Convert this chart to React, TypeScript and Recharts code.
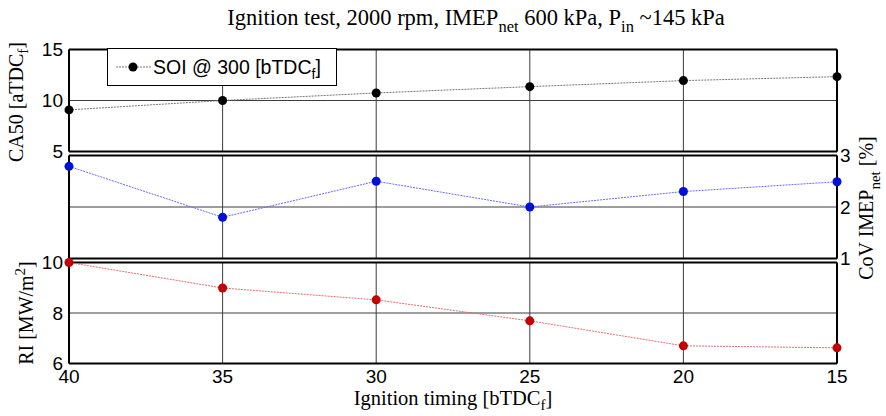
import React from 'react';
import { LineChart, Line, XAxis, YAxis, CartesianGrid, ReferenceLine } from 'recharts';

// ---- data ----
const ignitionTiming = [40, 35, 30, 25, 20, 15];
const ca50Values = [9.08, 10.0, 10.74, 11.36, 11.95, 12.34];
const covImepValues = [2.79, 1.8, 2.5, 2.0, 2.3, 2.49];
const riValues = [10.0, 8.99, 8.52, 7.69, 6.7, 6.62];
const xTicks = [40, 35, 30, 25, 20, 15];
const ca50Ticks = [5, 10, 15];
const covTicks = [1, 2, 3];
const riTicks = [6, 8, 10];
const legendLabel = 'SOI @ 300 [bTDC';

const data = ignitionTiming.map((x, i) => ({
  x,
  ca50: ca50Values[i],
  cov: covImepValues[i],
  ri: riValues[i],
}));

// ---- layout ----
const W = 886;
const H = 416;
const L = 69;
const R = 837;
const Y_W = 40;
const X_H = 30;
const SANS = 'Liberation Sans, Arial, Helvetica, sans-serif';
const SERIF = 'Liberation Serif, Times New Roman, serif';
const tickStyle = { fontSize: 19, fontFamily: SANS, fill: '#000' };
const GRID = '#3c3c3c';

type PanelProps = {
  top: number;
  bottom: number;
  dataKey: string;
  dotColor: string;
  lineColor: string;
  domain: [number, number];
  ticks: number[];
  side: 'left' | 'right';
  showX: boolean;
};

function Panel({ top, bottom, dataKey, dotColor, lineColor, domain, ticks, side, showX }: PanelProps) {
  const xH = showX ? X_H : 0;
  const margin = {
    top,
    bottom: H - bottom - xH,
    left: side === 'left' ? L - Y_W : L,
    right: side === 'right' ? W - R - Y_W : W - R,
  };
  return (
    <div style={{ position: 'absolute', left: 0, top: 0 }}>
      <LineChart width={W} height={H} data={data} margin={margin}>
        <CartesianGrid stroke={GRID} strokeWidth={1} vertical={false} />
        <XAxis
          type="number"
          dataKey="x"
          domain={[15, 40]}
          reversed
          ticks={xTicks}
          interval={0}
          height={xH}
          axisLine={false}
          tickLine={false}
          tickSize={4}
          tickMargin={2}
          tick={showX ? tickStyle : false}
        />
        <YAxis
          type="number"
          domain={domain}
          ticks={ticks}
          interval={0}
          orientation={side}
          width={Y_W}
          axisLine={false}
          tickLine={false}
          tickSize={side === 'left' ? 4 : 1}
          tickMargin={2}
          tick={tickStyle}
        />
        {xTicks.map((t) => (
          <ReferenceLine key={`g${t}`} x={t} stroke={GRID} strokeWidth={1} />
        ))}
        <ReferenceLine x={40} stroke="#000" strokeWidth={2} />
        <ReferenceLine x={15} stroke="#000" strokeWidth={2} />
        <ReferenceLine y={domain[0]} stroke="#000" strokeWidth={2} />
        <ReferenceLine y={domain[1]} stroke="#000" strokeWidth={2} />
        <Line
          type="linear"
          dataKey={dataKey}
          stroke={lineColor}
          strokeWidth={1}
          strokeDasharray="2 1"
          dot={{ r: 4.5, fill: dotColor, stroke: dotColor, strokeWidth: 0 }}
          activeDot={false}
          isAnimationActive={false}
        />
      </LineChart>
    </div>
  );
}

function Labels() {
  return (
    <svg width={W} height={H} style={{ position: 'absolute', left: 0, top: 0, pointerEvents: 'none' }}>
      <text x={476} y={25} textAnchor="middle" fontFamily={SERIF} fontSize={22.5} fill="#000">
        Ignition test, 2000 rpm, IMEP
        <tspan dy={7} fontSize={16.5}>net</tspan>
        <tspan dy={-7}> 600 kPa, P</tspan>
        <tspan dy={7} fontSize={16.5}>in</tspan>
        <tspan dy={-7}> ~145 kPa</tspan>
      </text>
      <text x={453} y={405} textAnchor="middle" fontFamily={SERIF} fontSize={20.5} fill="#000">
        Ignition timing [bTDC
        <tspan dy={5} fontSize={15}>f</tspan>
        <tspan dy={-5}>]</tspan>
      </text>
      <text
        transform="translate(23,102) rotate(-90)"
        textAnchor="middle"
        fontFamily={SERIF}
        fontSize={20}
        fill="#000"
      >
        CA50 [aTDC
        <tspan dy={5} fontSize={15}>f</tspan>
        <tspan dy={-5}>]</tspan>
      </text>
      <text
        transform="translate(33,313) rotate(-90)"
        textAnchor="middle"
        fontFamily={SERIF}
        fontSize={20}
        fill="#000"
      >
        RI [MW/m
        <tspan dy={-8} fontSize={15}>2</tspan>
        <tspan dy={8}>]</tspan>
      </text>
      <text
        transform="translate(873,208) rotate(-90)"
        textAnchor="middle"
        fontFamily={SERIF}
        fontSize={20}
        fill="#000"
      >
        CoV IMEP
        <tspan dy={7} fontSize={15}>net</tspan>
        <tspan dy={-7}> [%]</tspan>
      </text>
    </svg>
  );
}

function LegendBox() {
  return (
    <div
      style={{
        position: 'absolute',
        left: 107,
        top: 48,
        width: 230,
        height: 38,
        boxSizing: 'border-box',
        border: '1px solid #000',
        background: '#fff',
      }}
    >
      <svg width={228} height={36} style={{ position: 'absolute', left: 0, top: 0 }}>
        <line x1={8} y1={18} x2={43} y2={18} stroke="#777" strokeWidth={1} strokeDasharray="2 1" />
        <circle cx={25} cy={18} r={4.5} fill="#000" />
        <text x={45} y={25} fontFamily={SANS} fontSize={19.5} fill="#000">
          {legendLabel}
          <tspan dy={5} fontSize={14}>f</tspan>
          <tspan dy={-5}>]</tspan>
        </text>
      </svg>
    </div>
  );
}

export default function App() {
  return (
    <div style={{ position: 'absolute', left: 0, top: 0, width: W, height: H, background: '#fff' }}>
      <Panel
        top={49.5}
        bottom={151.5}
        dataKey="ca50"
        dotColor="#000"
        lineColor="#777"
        domain={[5, 15]}
        ticks={ca50Ticks}
        side="left"
        showX={false}
      />
      <Panel
        top={155.5}
        bottom={258.5}
        dataKey="cov"
        dotColor="#0010d8"
        lineColor="#6a6aff"
        domain={[1, 3]}
        ticks={covTicks}
        side="right"
        showX={false}
      />
      <Panel
        top={262.5}
        bottom={363.5}
        dataKey="ri"
        dotColor="#c40000"
        lineColor="#e07070"
        domain={[6, 10]}
        ticks={riTicks}
        side="left"
        showX={true}
      />
      <Labels />
      <LegendBox />
    </div>
  );
}
